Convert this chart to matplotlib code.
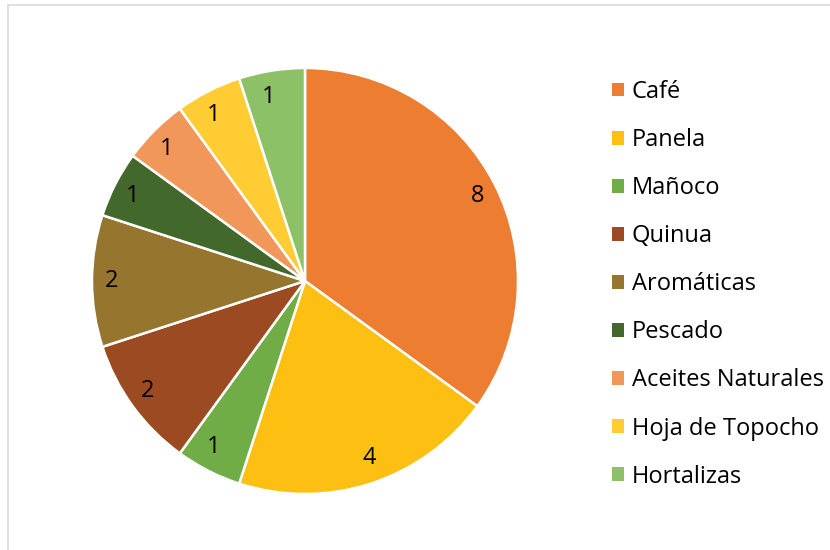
import matplotlib
matplotlib.use('Agg')
import matplotlib.pyplot as plt
from matplotlib.patches import Rectangle, Patch

# data
labels = ['Café', 'Panela', 'Mañoco', 'Quinua', 'Aromáticas', 'Pescado',
          'Aceites Naturales', 'Hoja de Topocho', 'Hortalizas']
# slice sizes as drawn in the chart, and the data labels it shows
sizes = [7, 4, 1, 2, 2, 1, 1, 1, 1]
shown = ['8', '4', '1', '2', '2', '1', '1', '1', '1']
colors = ['#ED7D31', '#FDC012', '#70AD47', '#9C4A22', '#96752E', '#43682B',
          '#F1975A', '#FFCD33', '#8CC168']

plt.rcParams['font.family'] = ['Open Sans', 'DejaVu Sans']

W, H = 830, 550
fig = plt.figure(figsize=(W / 100, H / 100), dpi=100)

# light grey chart border (left and top visible)
fig.patches.append(Rectangle((8 / W, -0.1), 1.2, 1.1 - 5 / H, transform=fig.transFigure,
                             fill=False, edgecolor='#D9D9D9', linewidth=1.2))

# pie centre (305, 281) px, radius 213 px
cx, cy, r = 305, 281, 213
ax = fig.add_axes([(cx - r) / W, (H - cy - r) / H, 2 * r / W, 2 * r / H])
wedges, texts = ax.pie(sizes, colors=colors, startangle=90, counterclock=False,
                       labels=shown, labeldistance=0.875,
                       wedgeprops=dict(edgecolor='white', linewidth=1.8),
                       textprops=dict(fontsize=17, color='black'))
ax.set_xlim(-1, 1)
ax.set_ylim(-1, 1)
ax.set_aspect('equal')
ax.axis('off')

handles = [Patch(facecolor=c, edgecolor='none') for c in colors]
fig.legend(handles, labels, loc='upper left', bbox_to_anchor=(612 / W, 1 - 80 / H),
           frameon=False, fontsize=17, handlelength=0.51, handleheight=0.51,
           handletextpad=0.32, labelspacing=1.02, borderpad=0, borderaxespad=0)

fig.savefig('out.png', dpi=100)
